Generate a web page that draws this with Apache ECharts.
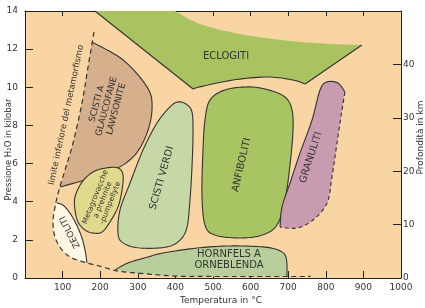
<!DOCTYPE html>
<html><head><meta charset="utf-8">
<script src="https://cdn.jsdelivr.net/npm/echarts@6/dist/echarts.min.js"></script>
<style>html,body{margin:0;padding:0;background:#fff}#c{width:425px;height:308px}</style>
</head><body><div id="c"></div>
<script>
// ---- axis values ----
const tempMin = 0, tempMax = 1000, tempStep = 100;
const presMin = 0, presMax = 14, presStep = 2;
const depthMin = 0, depthMax = 50, depthStep = 10;

// ---- facies outlines, [temperature °C, pressure kbar] ----
const eclogitiTop      = [[186,14],[399,14]];
const eclogitiBowl     = [[399,14],[465,13.32],[572,12.79],[705,12.43],[811,12.27],[896,12.22]];
const eclogitiRight    = [[896,12.22],[745,10.17]];
const eclogitiBottom   = [[745,10.17],[713,10.38],[644,10.54],[553,10.38],[465,10.02],[447,9.91]];
const eclogitiLeft     = [[447,9.91],[186,14]];

const glaucofaneCurve  = [[178,12.37],[261,11.43],[324.5,10.02],[338,8.97],[324.5,7.6],[287,6.34],[218,5.51],[93,4.77]];
const glaucofaneLimit  = [[93,4.77],[106.4,5.66],[127.7,7.08],[151.6,9.18],[167.6,11.06],[178,12.37]];

const zeolitiCurve     = [[85.1,3.93],[103.7,3.78],[127.7,3.15],[148.9,2.25],[159.6,1.47],[164.9,0.79]];
const zeolitiLimit     = [[164.9,0.79],[125,1.05],[98.4,1.47],[79.8,2.15],[74.5,2.94],[79.8,3.72],[85.1,3.93]];

const metagrovacche    = [[133,4.25],[151.6,5.03],[180.9,5.56],[215.4,5.77],[247.3,5.77],[260.6,5.40],[258,4.61],[247.3,3.72],[226,2.94],[204.8,2.41],[180.9,2.36],[159.6,2.52],[141,2.94],[133,3.57]];

const scistiVerdi      = [[406.9,9.23],[428.2,9.12],[444.1,8.70],[446.8,7.60],[444.1,5.82],[438.8,4.09],[430.9,2.67],[412.2,1.99],[377.7,1.63],[305.9,1.57],[260.6,1.84],[247.3,2.36],[252.7,3.57],[279.3,4.98],[313.8,6.71],[351.1,8.13],[385.6,8.97]];

const anfiboliti       = [[473.4,6.71],[478.7,8.28],[492,9.33],[531.9,9.86],[598.4,10.02],[656.9,9.81],[694.1,9.44],[710.1,8.81],[712.8,7.76],[704.8,5.93],[691.5,4.09],[670.2,2.78],[630.3,2.25],[571.8,2.10],[505.3,2.25],[478.7,2.78],[470.7,4.35]];

const granulitiSolid   = [[678.2,2.67],[683.5,3.72],[704.8,4.98],[731.4,6.55],[763.3,8.28],[784.6,9.86],[803.2,10.28],[832.4,10.22],[851,9.75]];
const granulitiDashed  = [[851,9.75],[843.1,8.81],[829.8,7.08],[816.5,5.30],[803.2,3.93],[766,3.04],[723.4,2.62],[678.2,2.67]];

const hornfelsTop      = [[239.4,0.42],[273.9,0.79],[327.1,1.10],[367,1.31],[457.4,1.57],[545.2,1.68],[633,1.63],[672.9,1.47],[691.5,1.21],[696.8,0.79]];
const hornfelsRight    = [[696.8,0.79],[696.8,0.08]];
const hornfelsBottom   = [[696.8,0.08],[486.7,0.08],[399,0.1],[297.9,0.25],[239.4,0.42]];

const limiteMetamorfismo = [[183.5,12.9],[167.6,11.06],[151.6,9.18],[127.7,7.08],[106.4,5.66],[90.4,4.61],[79.8,3.72],[74.5,2.94],[79.8,2.15],[98.4,1.47],[125,1.05],[165,0.79],[207,0.58],[245,0.37],[298,0.26],[399,0.1],[487,0.08],[760,0.08]];

// ---- labels ----
const labelTexts = ['ECLOGITI','SCISTI A\nGLAUCOFANE\nLAWSONITE','limite inferiore del metamorfismo','Metagrovacche\na prehnite\n-pumpellyte','ZEOLITI','SCISTI VERDI','ANFIBOLITI','GRANULITI','HORNFELS A\nORNEBLENDA'];
const labelAt = [[534.6,11.64],[217,9.0],[110,8.55],[207,4.09],[119.7,2.41],[364,5.24],[576,5.93],[760.6,6.32],[542.6,0.94]];

// ---- styling (kept separate from values) ----
const FONT = '"DejaVu Sans", Verdana, sans-serif';
const INK = '#333';
const labelStyle = [
  {rot:0,  size:10, lh:12},
  {rot:75, size:9,  lh:10},
  {rot:78, size:8.5,lh:10},
  {rot:68, size:7.5,lh:8},
  {rot:117,size:9,  lh:10},
  {rot:74, size:10, lh:12},
  {rot:77, size:10, lh:12},
  {rot:72, size:10, lh:12},
  {rot:0,  size:10, lh:11}
];

const shapes = [
  {fill:'#A9C361', edges:[
    {pts:eclogitiTop, smooth:false, stroke:null},
    {pts:eclogitiBowl, smooth:true, stroke:null},
    {pts:eclogitiRight, smooth:false, stroke:'solid'},
    {pts:eclogitiBottom, smooth:true, stroke:'solid'},
    {pts:eclogitiLeft, smooth:false, stroke:'solid'}]},
  {fill:'#D6AF8D', edges:[
    {pts:glaucofaneCurve, smooth:true, stroke:'solid'},
    {pts:glaucofaneLimit, smooth:true, stroke:null}]},
  {fill:'#FDF8E4', edges:[
    {pts:zeolitiCurve, smooth:true, stroke:'solid'},
    {pts:zeolitiLimit, smooth:true, stroke:null}]},
  {fill:'#E1D98B', closed:metagrovacche},
  {fill:'#C6D8A6', closed:scistiVerdi},
  {fill:'#A9C462', closed:anfiboliti},
  {fill:'#C89BB0', edges:[
    {pts:granulitiSolid, smooth:true, stroke:'solid'},
    {pts:granulitiDashed, smooth:true, stroke:'dash'}]},
  {fill:'#B9CF9B', edges:[
    {pts:hornfelsTop, smooth:true, stroke:'solid'},
    {pts:hornfelsRight, smooth:false, stroke:'solid'},
    {pts:hornfelsBottom, smooth:true, stroke:null}]}
];

function spline(p, closed, n) {
  n = n || 8;
  const N = p.length, out = [];
  if (N < 3) return p.slice();
  const get = i => closed ? p[(i + N) % N] : p[Math.max(0, Math.min(N - 1, i))];
  const segs = closed ? N : N - 1;
  for (let i = 0; i < segs; i++) {
    const p0 = get(i - 1), p1 = get(i), p2 = get(i + 1), p3 = get(i + 2);
    for (let k = 0; k < n; k++) {
      const t = k / n, t2 = t * t, t3 = t2 * t;
      const f = j => 0.5 * (2 * p1[j] + (-p0[j] + p2[j]) * t + (2 * p0[j] - 5 * p1[j] + 4 * p2[j] - p3[j]) * t2 + (-p0[j] + 3 * p1[j] - 3 * p2[j] + p3[j]) * t3);
      out.push([f(0), f(1)]);
    }
  }
  if (!closed) out.push(p[N - 1]);
  return out;
}

const STROKE_W = 1.1;
function shapeRenderer(shape) {
  return function (params, api) {
    const children = [];
    if (shape.closed) {
      const px = spline(shape.closed.map(p => api.coord(p)), true, 10);
      children.push({type:'polygon', shape:{points:px}, style:{fill:shape.fill, stroke:INK, lineWidth:STROKE_W}});
    } else {
      let all = [];
      const strokes = [];
      shape.edges.forEach(e => {
        const px = e.pts.map(p => api.coord(p));
        const dense = e.smooth ? spline(px, false, 10) : px;
        all = all.concat(dense);
        if (e.stroke) strokes.push({pts:dense, dash:e.stroke === 'dash'});
      });
      children.push({type:'polygon', shape:{points:all}, style:{fill:shape.fill, stroke:null}});
      strokes.forEach(s => children.push({type:'polyline', shape:{points:s.pts},
        style:{stroke:INK, lineWidth:STROKE_W, lineDash:s.dash ? [4,3] : null, fill:null}}));
    }
    return {type:'group', children};
  };
}

const series = shapes.map(s => ({
  type:'custom', coordinateSystem:'cartesian2d', xAxisIndex:0, yAxisIndex:0,
  silent:true, animation:false, data:[[0,0]], renderItem:shapeRenderer(s)
}));

series.push({
  type:'custom', coordinateSystem:'cartesian2d', xAxisIndex:0, yAxisIndex:0,
  silent:true, animation:false, data:[[0,0]],
  renderItem:function (params, api) {
    const px = spline(limiteMetamorfismo.map(p => api.coord(p)), false, 10);
    return {type:'polyline', shape:{points:px}, style:{stroke:INK, lineWidth:1.2, lineDash:[5,3.5], fill:null}};
  }
});

series.push({
  type:'custom', coordinateSystem:'cartesian2d', xAxisIndex:0, yAxisIndex:0,
  silent:true, animation:false, data:labelTexts.map((t, i) => [labelAt[i][0], labelAt[i][1]]),
  renderItem:function (params, api) {
    const i = params.dataIndex, st = labelStyle[i];
    const c = api.coord(labelAt[i]);
    return {type:'text', x:c[0], y:c[1], rotation:st.rot * Math.PI / 180,
      style:{text:labelTexts[i], align:'center', verticalAlign:'middle',
        font:st.size + 'px ' + FONT, lineHeight:st.lh, fill:INK}};
  }
});

const axisLine = {show:true, onZero:false, lineStyle:{color:'#222', width:1}};
const tickStyle = {color:'#222', width:1};
const labelBase = {fontFamily:FONT, fontSize:9, color:INK};

const chart = echarts.init(document.getElementById('c'), null, {renderer:'canvas'});
chart.setOption({
  animation:false,
  grid:{left:25, right:24, top:11, bottom:30, show:true, backgroundColor:'#F8D5A3', borderWidth:0,
        containLabel:false, outerBoundsMode:'none'},
  xAxis:[
    {type:'value', min:tempMin, max:tempMax, interval:tempStep, position:'bottom',
     axisLine, axisTick:{inside:true, length:7, lineStyle:tickStyle}, splitLine:{show:false},
     axisLabel:Object.assign({margin:5, formatter:v => v === 0 ? '' : String(v)}, labelBase),
     name:'Temperatura in °C', nameLocation:'middle', nameGap:18, nameMoveOverlap:false,
     nameTextStyle:{fontFamily:FONT, fontSize:9, color:INK, padding:[0,0,0,16]}},
    {type:'value', min:tempMin, max:tempMax, interval:tempStep, position:'top',
     axisLine, axisTick:{inside:true, length:5, lineStyle:tickStyle}, splitLine:{show:false},
     axisLabel:{show:false}}
  ],
  yAxis:[
    {type:'value', min:presMin, max:presMax, interval:presStep, position:'left',
     axisLine, axisTick:{inside:true, length:8, lineStyle:tickStyle}, splitLine:{show:false},
     axisLabel:Object.assign({margin:7}, labelBase),
     name:'Pressione H₂O in kilobar', nameLocation:'middle', nameGap:12, nameMoveOverlap:false,
     nameTextStyle:{fontFamily:FONT, fontSize:8.5, color:INK, padding:[0,10,0,0]}},
    {type:'value', min:depthMin, max:depthMax, interval:depthStep, position:'right',
     axisLine, axisTick:{inside:true, length:8, lineStyle:tickStyle}, splitLine:{show:false},
     axisLabel:Object.assign({margin:2, showMaxLabel:false}, labelBase),
     name:'Profondità in km', nameLocation:'middle', nameGap:15, nameMoveOverlap:false,
     nameTextStyle:{fontFamily:FONT, fontSize:9, color:INK, padding:[0,0,0,14]}}
  ],
  series
});
</script>
</body></html>
